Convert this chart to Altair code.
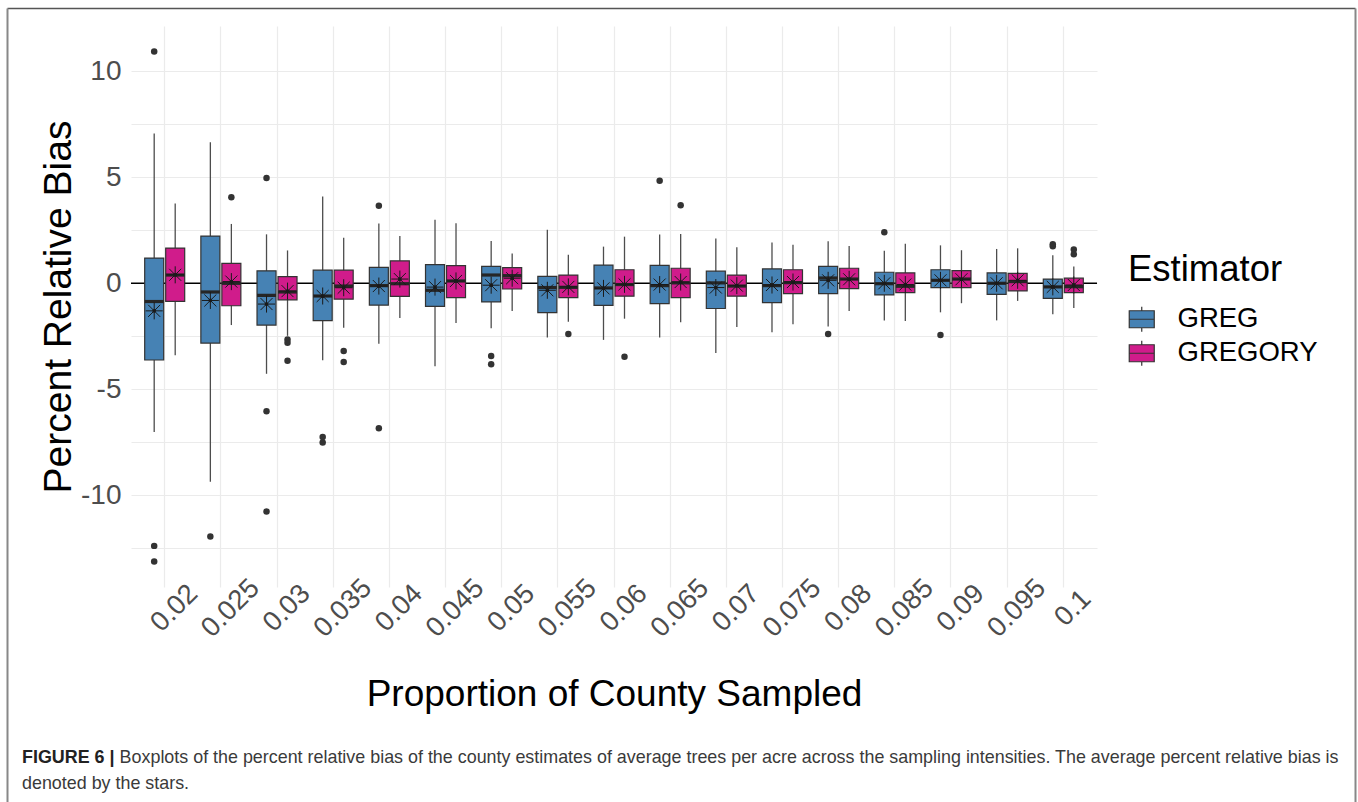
import altair as alt
import pandas as pd

# ---------------- data ----------------
props = ["0.02", "0.025", "0.03", "0.035", "0.04", "0.045", "0.05", "0.055", "0.06",
         "0.065", "0.07", "0.075", "0.08", "0.085", "0.09", "0.095", "0.1"]
estimators = ["GREG", "GREGORY"]

greg_lower = [-7.02, -9.36, -4.27, -3.63, -2.85, -3.91, -2.12, -2.56, -2.67, -2.56, -3.29, -2.31, -2.04, -1.75, -1.37, -1.75, -1.46]
greg_q1 = [-3.62, -2.82, -1.97, -1.76, -1.03, -1.09, -0.88, -1.38, -1.04, -0.96, -1.19, -0.91, -0.49, -0.55, -0.20, -0.52, -0.71]
greg_median = [-0.86, -0.41, -0.57, -0.60, -0.11, -0.33, 0.39, -0.20, -0.22, -0.11, 0.02, -0.11, 0.25, -0.02, 0.14, 0.00, -0.17]
greg_q3 = [1.19, 2.23, 0.59, 0.62, 0.75, 0.88, 0.80, 0.33, 0.86, 0.85, 0.57, 0.68, 0.80, 0.52, 0.64, 0.49, 0.20]
greg_upper = [7.07, 6.66, 2.31, 4.09, 2.82, 3.00, 2.00, 2.53, 1.73, 2.30, 2.11, 1.93, 1.98, 1.54, 1.79, 1.62, 1.32]
greg_mean = [-1.30, -0.81, -0.98, -0.60, -0.13, -0.18, -0.09, -0.33, -0.24, -0.06, -0.20, -0.08, 0.14, 0.00, 0.14, 0.00, -0.17]

gregory_lower = [-3.40, -1.97, -2.48, -2.10, -1.64, -1.87, -1.31, -1.82, -1.67, -1.84, -2.06, -1.93, -1.31, -1.78, -0.94, -0.83, -1.16]
gregory_q1 = [-0.85, -1.06, -0.78, -0.75, -0.62, -0.68, -0.27, -0.68, -0.61, -0.68, -0.61, -0.49, -0.25, -0.44, -0.20, -0.36, -0.44]
gregory_median = [0.39, 0.00, -0.41, -0.13, -0.02, 0.11, 0.36, -0.19, -0.06, 0.02, -0.13, 0.03, 0.20, -0.14, 0.20, 0.08, -0.16]
gregory_q3 = [1.66, 0.94, 0.31, 0.62, 1.06, 0.83, 0.74, 0.39, 0.64, 0.71, 0.39, 0.64, 0.71, 0.49, 0.60, 0.47, 0.24]
gregory_upper = [3.76, 2.80, 1.55, 2.15, 2.23, 2.83, 1.40, 1.35, 2.20, 2.33, 1.70, 1.82, 1.76, 1.86, 1.56, 1.65, 0.79]
gregory_mean = [0.40, 0.08, -0.37, -0.21, 0.20, 0.11, 0.24, -0.17, -0.05, 0.06, -0.11, 0.06, 0.19, -0.06, 0.19, 0.14, -0.08]

outlier_prop = ["0.02", "0.02", "0.02", "0.025", "0.03", "0.03", "0.03", "0.035", "0.035",
                "0.04", "0.04", "0.05", "0.05", "0.065", "0.08", "0.085", "0.09", "0.1", "0.1",
                "0.025", "0.03", "0.03", "0.03", "0.035", "0.035", "0.055", "0.06", "0.065",
                "0.1", "0.1"]
outlier_est = ["GREG"] * 19 + ["GREGORY"] * 11
outlier_val = [10.94, -12.39, -13.13, -11.95, 4.97, -6.04, -10.77, -7.25, -7.51,
               3.66, -6.84, -3.43, -3.82, 4.84, -2.39, 2.41, -2.44, 1.84, 1.75,
               4.06, -2.65, -2.80, -3.66, -3.19, -3.71, -2.39, -3.47, 3.68,
               1.60, 1.37]

colors = ["#4682B4", "#D01C8B"]

caption_bold = "FIGURE 6 |"
caption_line1 = ("Boxplots of the percent relative bias of the county estimates of average trees "
                 "per acre across the sampling intensities. The average percent relative bias is")
caption_line2 = "denoted by the stars."

# ---------------- tables ----------------
rows = []
for est, lo, q1, md, q3, up, mn in [
    ("GREG", greg_lower, greg_q1, greg_median, greg_q3, greg_upper, greg_mean),
    ("GREGORY", gregory_lower, gregory_q1, gregory_median, gregory_q3, gregory_upper, gregory_mean),
]:
    for i, p in enumerate(props):
        rows.append({"prop": p, "est": est, "lower": lo[i], "q1": q1[i], "median": md[i],
                     "q3": q3[i], "upper": up[i], "mean": mn[i]})
box_df = pd.DataFrame(rows)
out_df = pd.DataFrame({"prop": outlier_prop, "est": outlier_est, "val": outlier_val})
one = pd.DataFrame({"a": [0]})

FONT = "Liberation Sans"
W, H = 966, 561
PAD_L, PAD_T = 131, 26

xscale = alt.Scale(domain=props, paddingInner=0, paddingOuter=0.1)
offscale = alt.Scale(domain=estimators, paddingInner=0, paddingOuter=0.337)
yscale = alt.Scale(domain=[-14.33, 12.14], nice=False, zero=False)

xaxis = alt.Axis(labelAngle=-45, labelAlign="center", labelBaseline="top", labelPadding=11,
                 labelFontSize=27.5, labelColor="#4D4D4D", labelFont=FONT, labelOverlap=False,
                 labelFlush=False, ticks=False, domain=False, grid=True, tickBand="center",
                 gridColor="#EBEBEB", gridWidth=1.2,
                 titleFontSize=37, titleFont=FONT, titleFontWeight="normal", titleColor="black",
                 titleY=118, titleBaseline="alphabetic")
yaxis = alt.Axis(values=[-12.5, -10, -7.5, -5, -2.5, 0, 2.5, 5, 7.5, 10],
                 labelExpr="datum.value % 5 == 0 ? toString(datum.value) : ''",
                 labelFontSize=28, labelColor="#4D4D4D", labelFont=FONT, labelPadding=10,
                 ticks=False, domain=False, grid=True, gridColor="#EBEBEB", gridWidth=1.2,
                 titleFontSize=39, titleFont=FONT, titleFontWeight="normal", titleColor="black",
                 titleX=-61, titleY=H / 2, titleBaseline="alphabetic", titleAlign="center")

XT = "Proportion of County Sampled"
YT = "Percent Relative Bias"


def X():
    return alt.X("prop:N", sort=props, scale=xscale, axis=xaxis, title=XT)


def XO():
    return alt.XOffset("est:N", sort=estimators, scale=offscale)


def Y(f):
    return alt.Y(f, scale=yscale, axis=yaxis, title=YT)


STAR = "M-1,0L1,0M0,-1L0,1M-0.707,-0.707L0.707,0.707M-0.707,0.707L0.707,-0.707"
BOXSYM = "M-1,-0.68L1,-0.68L1,0.68L-1,0.68ZM-1,0L1,0M0,-0.68L0,-1M0,0.68L0,1"

whisk = alt.Chart(box_df).mark_rule(color="#4D4D4D", strokeWidth=1.3).encode(
    x=X(), xOffset=XO(), y=Y("lower:Q"), y2="upper:Q")

zero = alt.Chart(one).mark_rule(color="black", strokeWidth=1.4).encode(y=alt.datum(0))

box = alt.Chart(box_df).mark_bar(size=19, stroke="#333333", strokeWidth=1.2).encode(
    x=X(), xOffset=XO(), y=Y("q1:Q"), y2="q3:Q",
    color=alt.Color("est:N", scale=alt.Scale(domain=estimators, range=colors),
                    legend=alt.Legend(title="Estimator", orient="none", legendX=997, legendY=226,
                                      symbolType=BOXSYM, symbolSize=625,
                                      symbolStrokeColor="#333333", symbolStrokeWidth=1.2,
                                      labelFontSize=27.5, labelFont=FONT, labelColor="black",
                                      titleFontSize=36.5, titleFont=FONT, titleFontWeight="normal",
                                      titleColor="black", titlePadding=17, rowPadding=3,
                                      labelOffset=22, padding=0)))

med = alt.Chart(box_df).mark_tick(size=19, thickness=3.2, color="#262626", opacity=1).encode(
    x=X(), xOffset=XO(), y=Y("median:Q"))

outl = alt.Chart(out_df).mark_point(filled=True, size=42, color="#333333", opacity=1).encode(
    x=X(), xOffset=XO(), y=Y("val:Q"))

star = alt.Chart(box_df).mark_point(shape=STAR, size=290, filled=False, color="#1a1a1a",
                                    strokeWidth=1, opacity=1).encode(
    x=X(), xOffset=XO(), y=Y("mean:Q"))

dot = alt.Chart(box_df).mark_point(filled=True, size=14, color="#1a1a1a", opacity=1).encode(
    x=X(), xOffset=XO(), y=Y("mean:Q"))

# frame around the figure
fl, ft, fr, fb = 7.5 - PAD_L, 8.5 - PAD_T, 1355.5 - PAD_L, 802 - PAD_T + 5
frame_top = alt.Chart(one).mark_rule(color="#555555", strokeWidth=1.5).encode(
    x=alt.value(fl), x2=alt.value(fr), y=alt.value(ft))
frame_left = alt.Chart(one).mark_rule(color="#888888", strokeWidth=2).encode(
    x=alt.value(fl), y=alt.value(ft), y2=alt.value(fb))
frame_right = alt.Chart(one).mark_rule(color="#888888", strokeWidth=2).encode(
    x=alt.value(fr), y=alt.value(ft), y2=alt.value(fb))

cap_size = 17.9
cap_b = alt.Chart(one).mark_text(text=caption_bold, align="left", baseline="alphabetic", font=FONT,
                                 fontSize=cap_size, fontWeight="bold", color="#222222").encode(
    x=alt.value(22 - PAD_L), y=alt.value(763 - PAD_T))
cap_1 = alt.Chart(one).mark_text(text=caption_line1, align="left", baseline="alphabetic", font=FONT,
                                 fontSize=cap_size, color="#3a3a3a").encode(
    x=alt.value(22 - PAD_L + 97.6), y=alt.value(763 - PAD_T))
cap_2 = alt.Chart(one).mark_text(text=caption_line2, align="left", baseline="alphabetic", font=FONT,
                                 fontSize=cap_size, color="#3a3a3a").encode(
    x=alt.value(22 - PAD_L), y=alt.value(789 - PAD_T))

chart = alt.layer(whisk, zero, box, med, outl, star, dot,
                  frame_top, frame_left, frame_right, cap_b, cap_1, cap_2).properties(
    width=W, height=H,
    autosize=alt.AutoSizeParams(type="none"),
    padding={"left": PAD_L, "top": PAD_T, "right": 1358 - PAD_L - W, "bottom": 802 - PAD_T - H},
    background="white",
).configure(font=FONT).configure_view(strokeWidth=0, stroke="transparent")

chart.save("out.html", embed_options={"renderer": "svg", "actions": False})
